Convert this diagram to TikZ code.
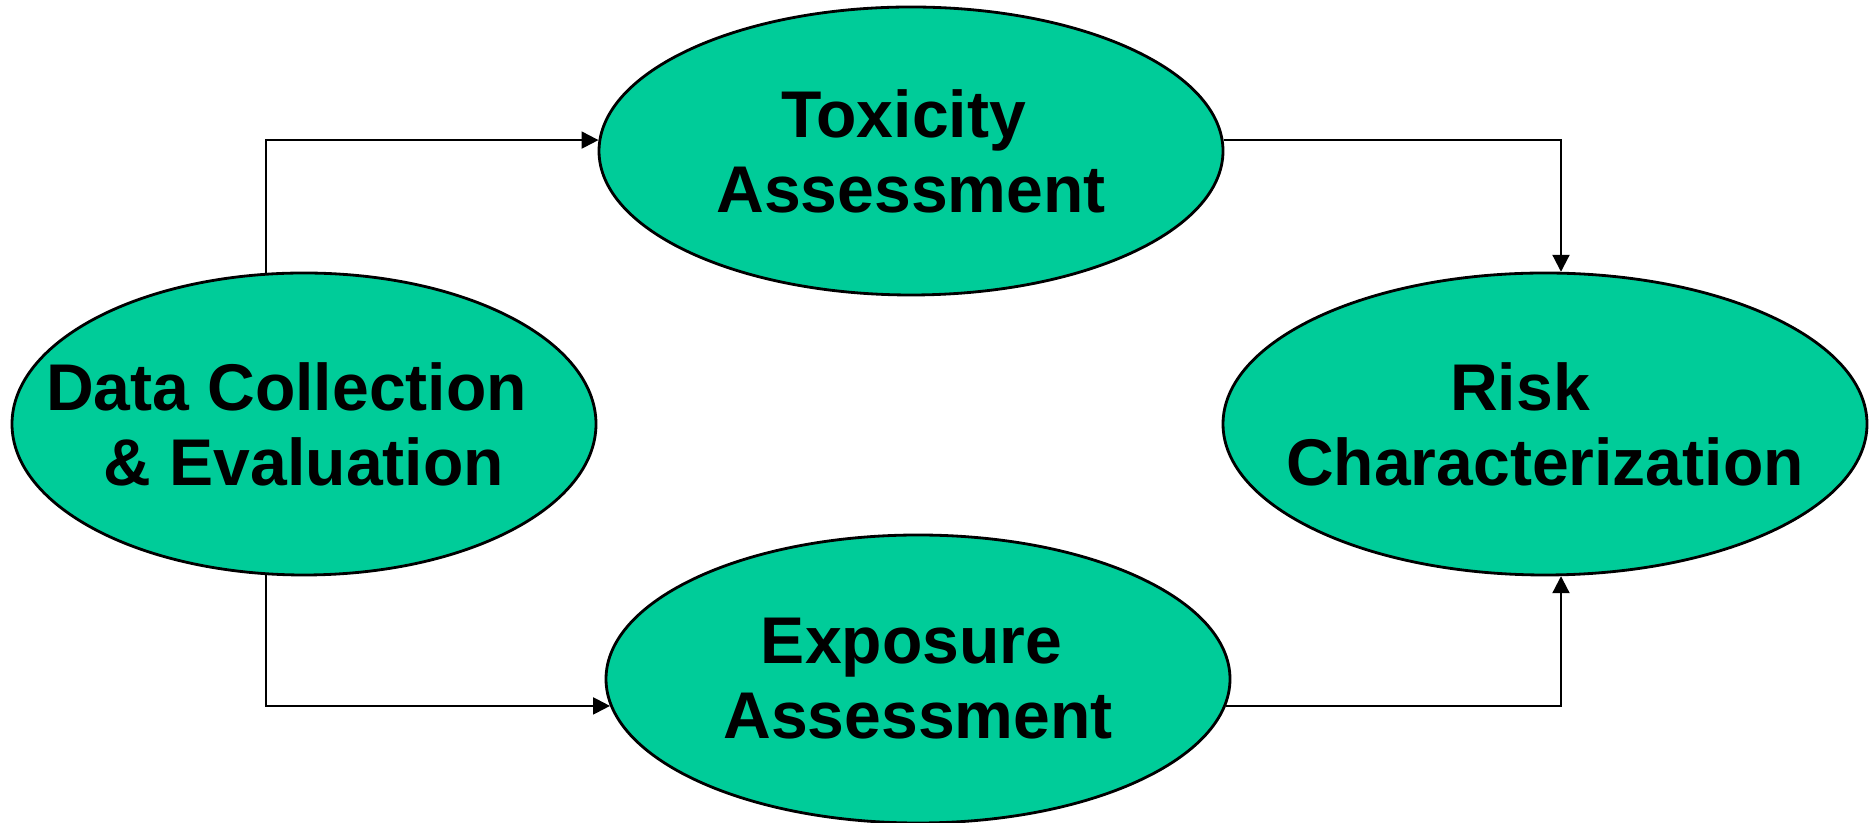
\documentclass[tikz,border=0pt]{standalone}
\usepackage{fontspec}
\setmainfont{Liberation Sans}
\usepackage{tikz}
\usetikzlibrary{arrows.meta,shapes.geometric,positioning}

\definecolor{stagegreen}{HTML}{00CC99}

\tikzset{
  stage/.style={ellipse, draw=black, line width=0.8pt, fill=stagegreen,
    minimum width=#1, inner sep=0pt},
  stagetext/.style={align=center, font=\fontsize{18.8}{21.3}\selectfont\bfseries},
  flow/.style={-{Triangle[length=1.7mm,width=1.7mm]}, line width=0.6pt}
}

\begin{document}
\begin{tikzpicture}[x=0.1mm,y=-0.1mm]
	\useasboundingbox (0,0) rectangle (1869,823);
	% the four stages
	\node[stage=58.4mm, minimum height=30.2mm] (data) at (304,424) {};
	\node[stage=62.4mm, minimum height=28.8mm] (tox) at (911,151) {};
	\node[stage=62.4mm, minimum height=28.8mm] (expo) at (918,679) {};
	\node[stage=64.4mm, minimum height=30.2mm] (risk) at (1545,424) {};
	% labels (first lines end in a space, as in the slide)
	\node[stagetext] (datat) at (data) {Data Collection\hspace*{3.5mm}\\\& Evaluation};
	\node[stagetext] (toxt) at (tox) {Toxicity\hspace*{1.5mm}\\Assessment};
	\node[stagetext] (expot) at (expo) {Exposure\hspace*{1.3mm}\\Assessment};
	\node[stagetext] (riskt) at (risk) {Risk\hspace*{5mm}\\Characterization};
	% connectors
	\draw[flow] (data.104) |- (tox.178);
	\draw[flow] (data.256) |- (expo.185);
	\draw[flow] (tox.2) -| (risk.84);
	\draw[flow] (expo.-5) -| (risk.276);
\end{tikzpicture}
\end{document}
